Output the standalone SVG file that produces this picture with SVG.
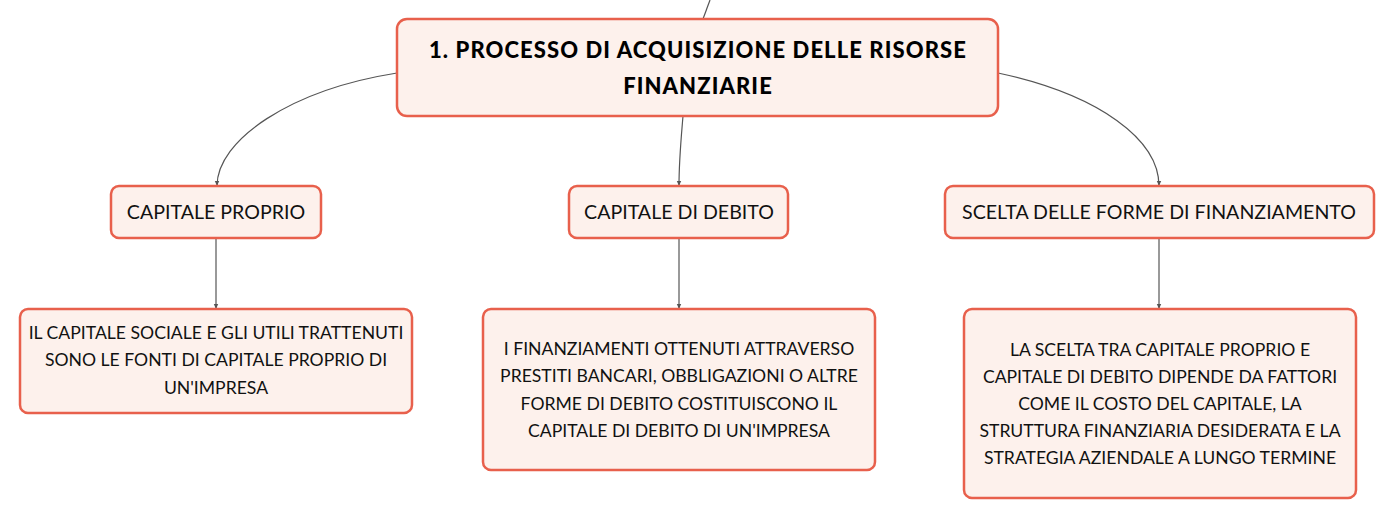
<svg xmlns="http://www.w3.org/2000/svg" width="1395" height="521" viewBox="0 0 1395 521">
<style>
.box{fill:#fdf1ec;stroke:#e8604c;stroke-width:2.5}
.t{font-family:Lato,"Noto Sans",sans-serif;font-size:17.6px;fill:#111;text-anchor:middle}
.t2{font-family:Lato,"Noto Sans",sans-serif;font-size:19.6px;fill:#111;text-anchor:middle}
.tb{font-family:Lato,"Noto Sans",sans-serif;font-size:22px;font-weight:900;fill:#000;text-anchor:middle;letter-spacing:1.1px}
.c{fill:none;stroke:#555;stroke-width:1.2}
</style>
<defs>
<marker id="a" markerWidth="6" markerHeight="6" refX="5" refY="3" orient="auto" markerUnits="userSpaceOnUse"><path d="M0,0.8 L5,3 L0,5.2z" fill="#555"/></marker>
</defs>
<g id="connectors">
<path class="c" d="M703,19 L710,0"/>
<path class="c" marker-end="url(#a)" d="M397,73 C290,90 217,140 217,186"/>
<path class="c" marker-end="url(#a)" d="M683,116 C681,140 679,160 679,186"/>
<path class="c" marker-end="url(#a)" d="M998,73 C1100,95 1159,140 1159,186"/>
<path class="c" marker-end="url(#a)" d="M216,238 L216,309"/>
<path class="c" marker-end="url(#a)" d="M679,238 L679,309"/>
<path class="c" marker-end="url(#a)" d="M1159,238 L1159,309"/>
</g>
<g id="root">
<rect class="box" x="397" y="19" width="601" height="97" rx="10"/>
<text class="tb" x="698" y="58">1. PROCESSO DI ACQUISIZIONE DELLE RISORSE</text>
<text class="tb" x="698" y="94">FINANZIARIE</text>
</g>
<g id="n1">
<rect class="box" x="111" y="186" width="210" height="52" rx="8"/>
<text class="t2" x="216" y="219">CAPITALE PROPRIO</text>
</g>
<g id="n2">
<rect class="box" x="569" y="186" width="219" height="52" rx="8"/>
<text class="t2" x="679" y="219">CAPITALE DI DEBITO</text>
</g>
<g id="n3">
<rect class="box" x="945" y="186" width="429" height="52" rx="8"/>
<text class="t2" x="1159" y="219">SCELTA DELLE FORME DI FINANZIAMENTO</text>
</g>
<g id="n1a">
<rect class="box" x="20" y="309" width="392" height="104" rx="8"/>
<text class="t" x="216" y="339">IL CAPITALE SOCIALE E GLI UTILI TRATTENUTI</text>
<text class="t" x="216" y="366">SONO LE FONTI DI CAPITALE PROPRIO DI</text>
<text class="t" x="216" y="394">UN'IMPRESA</text>
</g>
<g id="n2a">
<rect class="box" x="483" y="309" width="392" height="161" rx="8"/>
<text class="t" x="679" y="355">I FINANZIAMENTI OTTENUTI ATTRAVERSO</text>
<text class="t" x="679" y="382">PRESTITI BANCARI, OBBLIGAZIONI O ALTRE</text>
<text class="t" x="679" y="410">FORME DI DEBITO COSTITUISCONO IL</text>
<text class="t" x="679" y="437">CAPITALE DI DEBITO DI UN'IMPRESA</text>
</g>
<g id="n3a">
<rect class="box" x="964" y="309" width="392" height="189" rx="8"/>
<text class="t" x="1160" y="356">LA SCELTA TRA CAPITALE PROPRIO E</text>
<text class="t" x="1160" y="383">CAPITALE DI DEBITO DIPENDE DA FATTORI</text>
<text class="t" x="1160" y="410">COME IL COSTO DEL CAPITALE, LA</text>
<text class="t" x="1160" y="437">STRUTTURA FINANZIARIA DESIDERATA E LA</text>
<text class="t" x="1160" y="464">STRATEGIA AZIENDALE A LUNGO TERMINE</text>
</g>
</svg>
